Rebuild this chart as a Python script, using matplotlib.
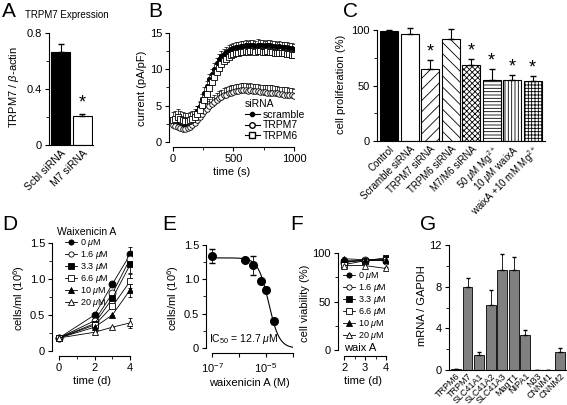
import matplotlib
matplotlib.use('Agg')
import matplotlib.pyplot as plt
import numpy as np

plt.rcParams['font.family'] = ['Liberation Sans', 'DejaVu Sans']
plt.rcParams['mathtext.fontset'] = 'custom'
plt.rcParams['mathtext.rm'] = 'Liberation Sans'
plt.rcParams['mathtext.it'] = 'Liberation Sans:italic'
plt.rcParams['font.size'] = 8
plt.rcParams['axes.linewidth'] = 0.8
plt.rcParams['xtick.direction'] = 'out'
plt.rcParams['ytick.direction'] = 'out'
plt.rcParams['xtick.major.size'] = 3
plt.rcParams['ytick.major.size'] = 3
plt.rcParams['xtick.minor.size'] = 2
plt.rcParams['ytick.minor.size'] = 2
plt.rcParams['xtick.major.pad'] = 2
plt.rcParams['ytick.major.pad'] = 2
plt.rcParams['hatch.linewidth'] = 0.6

# ---- data ----
# A: TRPM7 expression
a_labels = ['Scbl siRNA', 'M7 siRNA']
a_vals = [0.66, 0.21]
a_err = [0.06, 0.01]

# B: current time course (every 20 s)
b_time = np.arange(0, 1001, 20)
b_scramble = [2.6, 2.4, 2.3, 2.2, 2.2, 2.2, 2.3, 2.5, 2.9, 3.5, 4.2, 5.0, 5.9, 6.8, 7.7, 8.6, 9.4,
              10.1, 10.8, 11.4, 11.8, 12.1, 12.4, 12.6, 12.8, 12.9, 13.0, 13.1, 13.2, 13.2, 13.3,
              13.2, 13.3, 13.3, 13.2, 13.4, 13.3, 13.3, 13.2, 13.3, 13.3, 13.2, 13.2, 13.1, 13.2,
              13.1, 13.0, 13.0, 12.9, 12.9, 12.8]
b_trpm7 = [2.4, 2.2, 2.0, 1.9, 1.8, 1.8, 1.9, 2.0, 2.3, 2.6, 3.0, 3.4, 3.8, 4.2, 4.6, 4.9, 5.2,
           5.5, 5.8, 6.0, 6.2, 6.4, 6.5, 6.7, 6.8, 6.9, 7.0, 7.0, 7.1, 7.1, 7.1, 7.0, 7.1, 7.0,
           7.0, 7.0, 6.9, 6.9, 6.9, 6.8, 6.8, 6.8, 6.7, 6.7, 6.6, 6.6, 6.5, 6.5, 6.4, 6.4, 6.3]
b_trpm6 = [3.0, 3.2, 3.4, 3.2, 3.0, 2.9, 2.9, 3.0, 3.2, 3.5, 3.9, 4.4, 5.1, 5.8, 6.6, 7.4, 8.2,
           8.9, 9.6, 10.2, 10.7, 11.1, 11.4, 11.7, 11.9, 12.1, 12.2, 12.3, 12.4, 12.4, 12.5,
           12.4, 12.5, 12.5, 12.4, 12.5, 12.5, 12.4, 12.4, 12.5, 12.4, 12.4, 12.3, 12.3, 12.3,
           12.2, 12.2, 12.1, 12.1, 12.0, 12.0]
b_err = {'scramble': 0.7, 'TRPM7': 1.0, 'TRPM6': 1.1}

# C: cell proliferation
c_labels = ['Control', 'Scramble siRNA', 'TRPM7 siRNA', 'TRPM6 siRNA', 'M7/M6 siRNA',
            r'50 $\mu$M Mg$^{2+}$', r'10 $\mu$M waixA', r'waixA +10 mM Mg$^{2+}$']
c_vals = [99, 97, 65, 92, 69, 55, 55, 54]
c_err = [1, 5, 8, 9, 5, 10, 5, 5]
c_star = [False, False, True, False, True, True, True, True]

# D: growth with waixenicin A
conc_labels = [r'0 $\mu$M', r'1.6 $\mu$M', r'3.3 $\mu$M', r'6.6 $\mu$M', r'10 $\mu$M', r'20 $\mu$M']
d_days = [0, 2, 3, 4]
d_vals = [[0.18, 0.50, 0.93, 1.34],
          [0.18, 0.42, 0.80, 1.28],
          [0.18, 0.38, 0.73, 1.20],
          [0.18, 0.36, 0.62, 0.97],
          [0.18, 0.33, 0.50, 0.85],
          [0.18, 0.26, 0.33, 0.39]]
d_err_day4 = [0.10, 0.10, 0.12, 0.10, 0.10, 0.07]

# E: dose response (day 4)
e_conc = [1e-7, 1.6e-6, 3.3e-6, 6.6e-6, 1e-5, 2e-5]
e_vals = [1.34, 1.28, 1.20, 0.97, 0.85, 0.39]
e_err = [0.10, 0.02, 0.14, 0.03, 0.04, 0.04]
ic50 = 12.7e-6
hill_n = 2.2
e_top = 1.31

# F: viability
f_days = [2, 3, 4]
f_vals = [[92, 92, 93],
          [90, 93, 92],
          [91, 92, 95],
          [88, 92, 93],
          [94, 93, 93],
          [87, 87, 84]]

# G: mRNA expression
g_labels = ['TRPM6', 'TRPM7', 'SLC41A1', 'SLC41A2', 'SLC41A3', 'MagT1', 'NIPA1', 'N33',
            'CNNM1', 'CNNM2']
g_vals = [0.05, 8.0, 1.45, 6.2, 9.6, 9.65, 3.4, 0.03, 0.03, 1.75]
g_err = [0.02, 0.8, 0.3, 1.45, 1.5, 1.2, 0.45, 0.01, 0.01, 0.35]

markers = [('o', 'k'), ('o', 'w'), ('s', 'k'), ('s', 'w'), ('^', 'k'), ('^', 'w')]

W, H = 567, 405
fig = plt.figure(figsize=(W / 100, H / 100), dpi=100)


def box(x0, y0, x1, y1):
    ax = fig.add_axes([x0 / W, 1 - y1 / H, (x1 - x0) / W, (y1 - y0) / H])
    ax.spines['top'].set_visible(False)
    ax.spines['right'].set_visible(False)
    ax.patch.set_alpha(0)
    return ax


def plabel(x, y, s):
    fig.text(x / W, 1 - y / H, s, fontsize=15, va='top', ha='left')


# ---- A ----
ax = box(49, 30, 93, 145)
ax.bar([0, 1], a_vals, width=0.9, color=['k', 'w'], edgecolor='k', linewidth=0.8)
ax.errorbar([0, 1], a_vals, yerr=[[0, 0], a_err], fmt='none', ecolor='k', elinewidth=0.8, capsize=2)
ax.set_xlim(-0.55, 1.5)
ax.set_ylim(0, 0.82)
ax.spines['left'].set_bounds(0, 0.8)
ax.set_yticks([0, 0.4, 0.8], ['0', '0.4', '0.8'])
ax.set_yticks([0.2, 0.6], minor=True)
ax.set_xticks([0, 1], a_labels, rotation=45, ha='right', rotation_mode='anchor', fontsize=7.5)
ax.tick_params(axis='x', length=0)
ax.set_ylabel(r'TRPM7 / $\beta$-actin', fontsize=8)
ax.text(1, 0.27, '*', ha='center', fontsize=13)
fig.text(67 / W, 1 - 15 / H, 'TRPM7 Expression', fontsize=7, ha='center', va='center')
plabel(2, 2, 'A')

# ---- B ----
ax = box(169, 30, 294, 147)
series_b = [('scramble', b_scramble, 'o', 'k', 3), ('TRPM7', b_trpm7, 'o', 'w', 4),
            ('TRPM6', b_trpm6, 's', 'w', 4)]
for name, vals, m, fc, ms in series_b[::-1]:
    vals = np.array(vals)
    ax.errorbar(b_time, vals, yerr=[np.zeros_like(vals), np.full_like(vals, b_err[name])],
                fmt='none', ecolor='k', elinewidth=0.5, capsize=1.2, capthick=0.5)
handles = []
for name, vals, m, fc, ms in series_b:
    l, = ax.plot(b_time, vals, m, mfc=fc, mec='k', mew=0.6, ms=ms, color='k', lw=0.8, ls='none',
                 label=name)
    handles.append(l)
leg_h = [plt.Line2D([], [], color='k', lw=0.8, marker=h.get_marker(), mfc=h.get_markerfacecolor(),
                    mec='k', ms=h.get_markersize()) for h in handles]
leg = ax.legend(leg_h, [h.get_label() for h in handles], title='siRNA', loc='lower right',
                bbox_to_anchor=(1.14, 0.0), frameon=False, fontsize=7.5, title_fontsize=7.5,
                handlelength=1.4, handletextpad=0.3, labelspacing=0.05, borderpad=0.1,
                alignment='left')
ax.set_xlim(-33, 1000)
ax.set_ylim(-0.69, 15.4)
ax.spines['left'].set_bounds(0, 15)
ax.spines['bottom'].set_bounds(0, 1000)
ax.set_xticks([0, 500, 1000])
ax.set_xticks([250, 750], minor=True)
ax.set_yticks([0, 5, 10, 15])
ax.set_yticks([2.5, 7.5, 12.5], minor=True)
ax.set_xlabel('time (s)', fontsize=8, labelpad=2)
ax.set_ylabel('current (pA/pF)', fontsize=8, labelpad=2)
plabel(148, 2, 'B')

# ---- C ----
ax = box(377, 27, 545, 141)
hatches = ['', '', '///', '\\\\\\', 'xxxxxx', '-----', '|||||', '+++++']
xc = np.arange(len(c_vals))
for i in range(len(c_vals)):
    ax.bar(xc[i], c_vals[i], width=0.88, color='k' if i == 0 else 'w', edgecolor='k',
           linewidth=0.8, hatch=hatches[i])
ax.errorbar(xc, c_vals, yerr=[np.zeros(len(c_err)), c_err], fmt='none', ecolor='k',
            elinewidth=0.8, capsize=2)
for i in range(len(c_vals)):
    if c_star[i]:
        ax.text(xc[i], c_vals[i] + c_err[i] + 3, '*', ha='center', fontsize=13)
ax.set_xlim(-0.6, 7.6)
ax.set_ylim(0, 103)
ax.spines['left'].set_bounds(0, 100)
ax.set_yticks([0, 50, 100])
ax.set_yticks([25, 75], minor=True)
ax.set_xticks(xc, c_labels, rotation=45, ha='right', rotation_mode='anchor', fontsize=7)
ax.tick_params(axis='x', length=0)
ax.set_ylabel('cell proliferation (%)', fontsize=8)
plabel(343, 2, 'C')

# ---- D ----
ax = box(52, 240, 132, 356)
for i in range(len(d_vals)):
    m, fc = markers[i]
    ax.errorbar(d_days, d_vals[i], yerr=[[0, 0, 0, d_err_day4[i]], [0, 0, 0, d_err_day4[i]]],
                color='k', lw=0.6, marker=m, mfc=fc, mec='k', mew=0.6, ms=5, ecolor='k',
                elinewidth=0.6, capsize=1.5, label=conc_labels[i])
hd, lb = ax.get_legend_handles_labels()
ax.legend([h[0] for h in hd], lb, title='Waixenicin A', loc='upper left',
          bbox_to_anchor=(0.0, 1.16), frameon=False, fontsize=6.5, title_fontsize=7.5,
          handlelength=1.3, handletextpad=0.3, labelspacing=0.0, borderpad=0.1,
          markerscale=0.75)
ax.set_xlim(-0.39, 4.1)
ax.set_ylim(-0.07, 1.54)
ax.spines['left'].set_bounds(0, 1.5)
ax.spines['bottom'].set_bounds(0, 4)
ax.set_xticks([0, 2, 4])
ax.set_xticks([1, 3], minor=True)
ax.set_yticks([0, 0.5, 1.0, 1.5], ['0', '0.5', '1.0', '1.5'])
ax.set_yticks([0.25, 0.75, 1.25], minor=True)
ax.set_xlabel('time (d)', fontsize=8, labelpad=2)
ax.set_ylabel('cells/ml (10$^6$)', fontsize=8, labelpad=2)
plabel(2, 215, 'D')

# ---- E ----
ax = box(206, 242, 293, 353)
xs = np.logspace(-7, -4, 200)
ax.plot(xs, e_top / (1 + (xs / ic50) ** hill_n), color='k', lw=0.8)
ax.errorbar(e_conc, e_vals, yerr=e_err, fmt='o', color='k', ms=5.5, ecolor='k',
            elinewidth=0.6, capsize=2)
ax.set_xscale('log')
ax.set_xlim(10 ** -7.23, 10 ** -3.99)
ax.set_ylim(-0.07, 1.54)
ax.spines['left'].set_bounds(0, 1.5)
ax.spines['bottom'].set_bounds(1e-7, 1e-4)
ax.set_xticks([1e-7, 1e-6, 1e-5, 1e-4], ['$10^{-7}$', '', '$10^{-5}$', ''])
ax.xaxis.set_minor_locator(matplotlib.ticker.NullLocator())
ax.set_yticks([0, 0.5, 1.0, 1.5], ['0', '0.5', '1.0', '1.5'])
ax.set_yticks([0.25, 0.75, 1.25], minor=True)
ax.tick_params(axis='x', pad=3)
ax.set_xlabel('waixenicin A (M)', fontsize=8, labelpad=2)
ax.set_ylabel('cells/ml (10$^6$)', fontsize=8, labelpad=2)
ax.text(0.04, 0.1, r'IC$_{50}$ = 12.7 $\mu$M', transform=ax.transAxes, fontsize=7.5)
plabel(162, 215, 'E')

# ---- F ----
ax = box(338, 250, 388, 356)
for i in range(len(f_vals)):
    m, fc = markers[i]
    ax.errorbar(f_days, f_vals[i], yerr=2, color='k', lw=0.6, marker=m, mfc=fc, mec='k',
                mew=0.6, ms=5, ecolor='k', elinewidth=0.5, capsize=1.2, label=conc_labels[i])
hd, lb = ax.get_legend_handles_labels()
ax.legend([h[0] for h in hd], lb, loc='upper left', bbox_to_anchor=(0.0, 0.86),
          frameon=False, fontsize=6.5, handlelength=1.3, handletextpad=0.3,
          labelspacing=0.0, borderpad=0.1, markerscale=0.75)
ax.text(0.12, 0.05, 'waix A', transform=ax.transAxes, fontsize=8)
ax.set_xlim(1.7, 4.1)
ax.set_ylim(-6, 103)
ax.spines['left'].set_bounds(0, 100)
ax.spines['bottom'].set_bounds(2, 4)
ax.set_xticks([2, 3, 4])
ax.set_xticks([2.5, 3.5], minor=True)
ax.set_yticks([0, 50, 100])
ax.set_yticks([25, 75], minor=True)
ax.set_xlabel('time (d)', fontsize=8, labelpad=2)
ax.set_ylabel('cell viability (%)', fontsize=8, labelpad=2)
plabel(290, 215, 'F')

# ---- G ----
ax = box(449, 242, 567, 370)
xg = np.arange(len(g_vals))
ax.bar(xg, g_vals, width=0.85, color='#808080', edgecolor='k', linewidth=0.6)
ax.errorbar(xg, g_vals, yerr=[np.zeros(len(g_err)), g_err], fmt='none', ecolor='k',
            elinewidth=0.6, capsize=1.5)
ax.set_xlim(-0.6, 9.6)
ax.set_ylim(0, 12.3)
ax.spines['left'].set_bounds(0, 12)
ax.set_yticks([0, 4, 8, 12])
ax.set_yticks([2, 6, 10], minor=True)
ax.set_xticks(xg, g_labels, rotation=45, ha='right', rotation_mode='anchor', fontsize=6.5)
ax.tick_params(axis='x', length=0, pad=1)
ax.set_ylabel('mRNA / GAPDH', fontsize=8, labelpad=2)
plabel(420, 215, 'G')

fig.savefig('out.png', dpi=100)
